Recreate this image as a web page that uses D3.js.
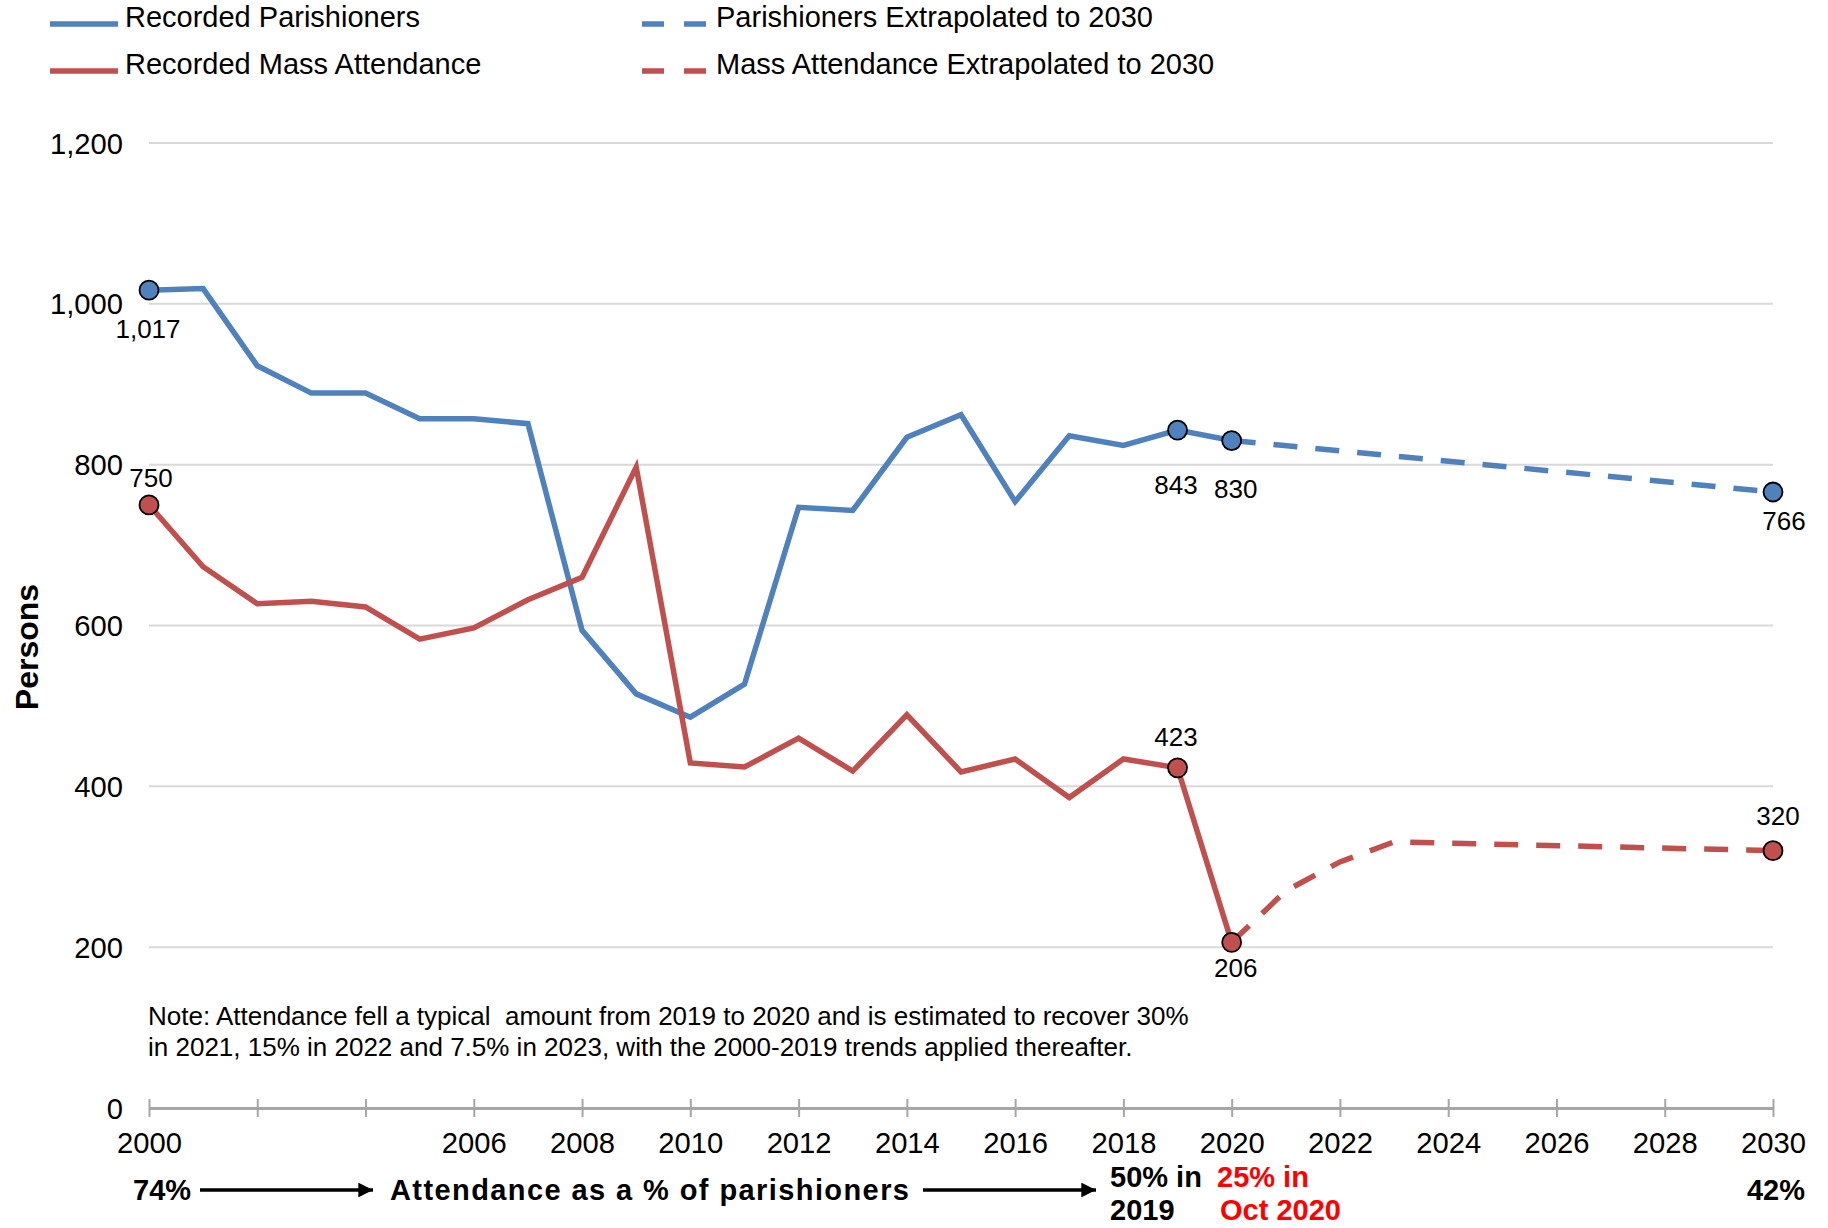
<!DOCTYPE html>
<html>
<head>
<meta charset="utf-8">
<script src="https://cdn.jsdelivr.net/npm/d3@7"></script>
<style>
  html, body { margin: 0; padding: 0; background: #fff; }
  svg { display: block; font-family: "Liberation Sans", Arial, sans-serif; }
</style>
</head>
<body>
<svg id="chart" width="1828" height="1228"></svg>
<script>
// ---- Data ----
const years = [2000,2001,2002,2003,2004,2005,2006,2007,2008,2009,2010,2011,2012,2013,2014,2015,2016,2017,2018,2019,2020];
const parishioners = [1017,1019,923,889,889,857,857,851,594,515,486,527,747,743,834,862,754,836,824,843,830];
const attendance   = [750,673,627,630,623,583,597,632,660,797,429,424,460,419,489,418,434,386,434,423,206];
const extraYears = [2020,2030];
const parishionersExtra = [830,766];
const attendanceExtraYears = [2020,2021,2022,2023,2030];
const attendanceExtra = [206,270,306,331,320];
const yTicks = [0,200,400,600,800,1000,1200];
const xTicks = [2000,2002,2004,2006,2008,2010,2012,2014,2016,2018,2020,2022,2024,2026,2028,2030];
const xTickLabels = ["2000","","","2006","2008","2010","2012","2014","2016","2018","2020","2022","2024","2026","2028","2030"];
const legendLabels = ["Recorded Parishioners","Recorded Mass Attendance","Parishioners Extrapolated to 2030","Mass Attendance Extrapolated to 2030"];
// labelled points: [series, year, value, text]
const pointLabels = [
  ["p",2000,1017,"1,017"],["p",2019,843,"843"],["p",2020,830,"830"],["p",2030,766,"766"],
  ["a",2000,750,"750"],["a",2019,423,"423"],["a",2020,206,"206"],["a",2030,320,"320"]
];
const noteLines = ["Note: Attendance fell a typical  amount from 2019 to 2020 and is estimated to recover 30%",
                   "in 2021, 15% in 2022 and 7.5% in 2023, with the 2000-2019 trends applied thereafter."];

// ---- Setup ----
const BLUE = "#4f81bd", RED = "#c0504d";
const svg = d3.select("#chart");
const x = d3.scaleLinear().domain([2000,2030]).range([149,1773]);
const y = d3.scaleLinear().domain([0,1200]).range([1108,143]);
const FS = 29.2;

// gridlines
svg.append("g").selectAll("line").data(yTicks.filter(d => d > 0)).join("line")
  .attr("x1", x(2000)).attr("x2", x(2030))
  .attr("y1", d => y(d)).attr("y2", d => y(d))
  .attr("stroke", "#d9d9d9").attr("stroke-width", 2);

// y labels
svg.append("g").selectAll("text").data(yTicks).join("text")
  .attr("x", 123).attr("y", d => y(d)).attr("dy", "0.36em")
  .attr("text-anchor", "end").attr("font-size", FS).attr("fill", "#000")
  .text(d => d3.format(",")(d));

// x axis
const xAxis = svg.append("g").attr("transform", `translate(0,${y(0)})`)
  .call(d3.axisBottom(x).tickValues(xTicks).tickFormat((d,i) => xTickLabels[i]).tickSizeOuter(0));
xAxis.select(".domain").attr("stroke", "#a6a6a6").attr("stroke-width", 3);
xAxis.selectAll(".tick line").attr("y1", -9).attr("y2", 9).attr("stroke", "#a6a6a6").attr("stroke-width", 2);
xAxis.selectAll(".tick text").attr("y", 45).attr("dy", 0).attr("font-size", FS)
  .attr("font-family", "'Liberation Sans', Arial, sans-serif").attr("fill", "#000");

// y axis title
svg.append("text").attr("transform", "translate(38,647) rotate(-90)")
  .attr("text-anchor", "middle").attr("font-size", 32).attr("font-weight", "bold").text("Persons");

// lines
const line = d3.line().x(d => x(d[0])).y(d => y(d[1]));
const seriesLines = [
  {pts: d3.zip(years, parishioners), color: BLUE, dash: null},
  {pts: d3.zip(years, attendance), color: RED, dash: null},
  {pts: d3.zip(extraYears, parishionersExtra), color: BLUE, dash: "24,18"},
  {pts: d3.zip(attendanceExtraYears, attendanceExtra), color: RED, dash: "24,18"}
];
svg.append("g").selectAll("path").data(seriesLines).join("path")
  .attr("d", d => line(d.pts)).attr("fill", "none")
  .attr("stroke", d => d.color).attr("stroke-width", 5.5)
  .attr("stroke-dasharray", d => d.dash);

// markers
svg.append("g").selectAll("circle").data(pointLabels).join("circle")
  .attr("cx", d => x(d[1])).attr("cy", d => y(d[2])).attr("r", 9.5)
  .attr("fill", d => d[0] === "p" ? BLUE : RED).attr("stroke", "#000").attr("stroke-width", 1.8);

// point labels (offset from marker)
const labelOffsets = {
  "1,017": [-1, 48], "843": [-1.5, 64], "830": [4, 57.5], "766": [11, 38],
  "750": [2, -18], "423": [-1.5, -22], "206": [4, 35], "320": [5, -26]
};
svg.append("g").selectAll("text").data(pointLabels).join("text")
  .attr("x", d => x(d[1]) + labelOffsets[d[3]][0])
  .attr("y", d => y(d[2]) + labelOffsets[d[3]][1])
  .attr("text-anchor", "middle").attr("font-size", 26).text(d => d[3]);

// legend
const legendPos = [[50, 24, 125, 27],[50, 71, 125, 74],[642, 24, 716, 27],[642, 71, 716, 74]];
const legendStyle = [[BLUE,null],[RED,null],[BLUE,"22,20"],[RED,"22,20"]];
const lg = svg.append("g");
legendLabels.forEach((t, i) => {
  const [lx, ly, tx, ty] = legendPos[i];
  lg.append("line").attr("x1", lx).attr("x2", lx + 68).attr("y1", ly).attr("y2", ly)
    .attr("stroke", legendStyle[i][0]).attr("stroke-width", 5.5)
    .attr("stroke-dasharray", legendStyle[i][1]);
  lg.append("text").attr("x", tx).attr("y", ty).attr("font-size", 29).text(t);
});

// note
svg.append("g").selectAll("text").data(noteLines).join("text")
  .attr("x", 148).attr("y", (d, i) => 1025 + i * 31)
  .attr("font-size", 26).style("white-space", "pre").text(d => d);

// bottom annotation
const defs = svg.append("defs");
defs.append("marker").attr("id", "arrow").attr("viewBox", "0 0 10 10")
  .attr("refX", 10).attr("refY", 5).attr("markerWidth", 4.2).attr("markerHeight", 4.2)
  .attr("markerUnits", "strokeWidth").attr("orient", "auto")
  .append("path").attr("d", "M0,0 L10,5 L0,10 Z").attr("fill", "#000");

const bottom = svg.append("g").attr("font-size", 29).attr("font-weight", "bold");
bottom.append("text").attr("x", 133).attr("y", 1200).text("74%");
bottom.append("line").attr("x1", 200).attr("x2", 373).attr("y1", 1190).attr("y2", 1190)
  .attr("stroke", "#000").attr("stroke-width", 3.5).attr("marker-end", "url(#arrow)");
bottom.append("text").attr("x", 390).attr("y", 1200)
  .attr("textLength", 519).attr("lengthAdjust", "spacing").text("Attendance as a % of parishioners");
bottom.append("line").attr("x1", 923).attr("x2", 1096).attr("y1", 1190).attr("y2", 1190)
  .attr("stroke", "#000").attr("stroke-width", 3.5).attr("marker-end", "url(#arrow)");
bottom.append("text").attr("x", 1110).attr("y", 1187).text("50% in");
bottom.append("text").attr("x", 1110).attr("y", 1220).text("2019");
bottom.append("text").attr("x", 1217).attr("y", 1187).attr("fill", "#ff0000").text("25% in");
bottom.append("text").attr("x", 1220).attr("y", 1220).attr("fill", "#ff0000").text("Oct 2020");
bottom.append("text").attr("x", 1805).attr("y", 1200).attr("text-anchor", "end").text("42%");
</script>
</body>
</html>
